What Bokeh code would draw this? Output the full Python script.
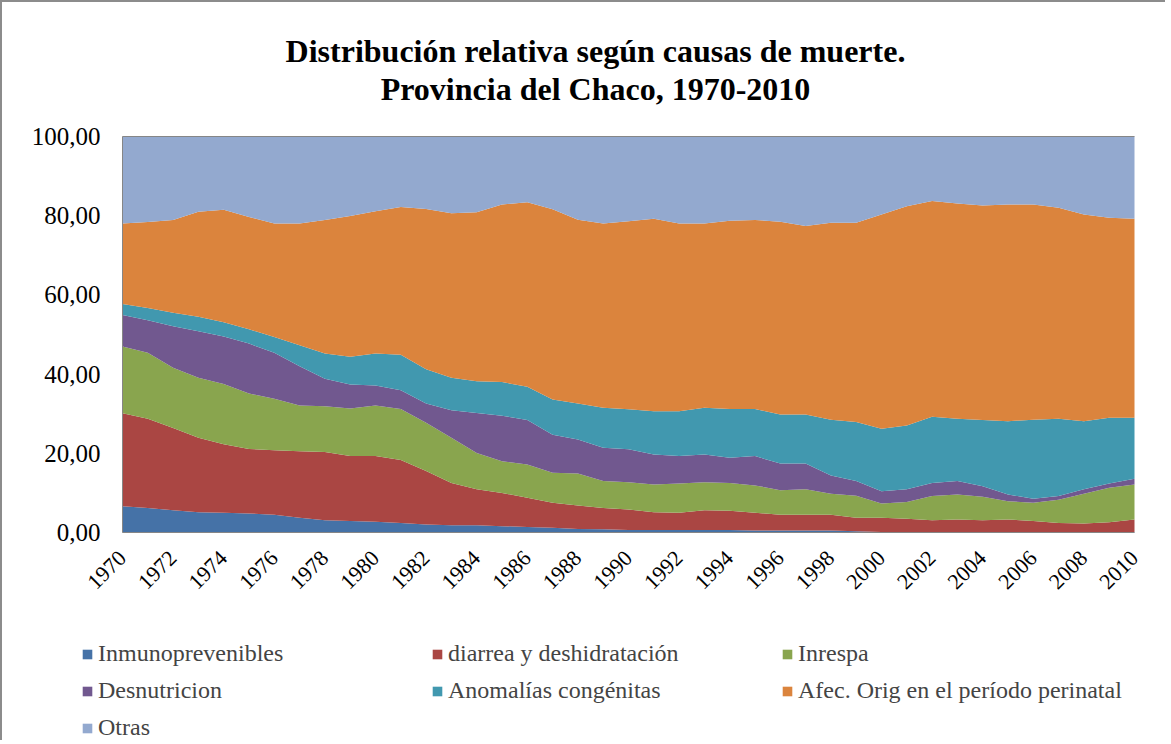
from math import pi
from bokeh.plotting import figure
from bokeh.models import (ColumnDataSource, Legend, LegendItem, Label,
                          FixedTicker, Range1d, LinearAxis)
from bokeh.embed import file_html
from bokeh.resources import INLINE

years = list(range(1970, 2011))

inmunoprevenibles = [6.6, 6.2, 5.6, 5.1, 5.0, 4.8, 4.5, 3.7, 3.1, 2.9,
                     2.7, 2.4, 2.0, 1.8, 1.8, 1.6, 1.4, 1.2, 0.9, 0.8,
                     0.6, 0.6, 0.6, 0.6, 0.6, 0.5, 0.5, 0.5, 0.5, 0.3,
                     0.1, 0.1, 0.1, 0.1, 0.1, 0.1, 0.1, 0.1, 0.1, 0.1, 0.1]
diarrea = [23.5, 22.5, 20.8, 18.8, 17.3, 16.3, 16.3, 16.8, 17.2, 16.4,
           16.6, 15.9, 13.5, 10.7, 9.1, 8.4, 7.4, 6.3, 5.9, 5.4,
           5.2, 4.5, 4.4, 5.0, 4.9, 4.5, 4.0, 4.0, 4.0, 3.4,
           3.6, 3.4, 3.0, 3.2, 3.0, 3.2, 2.8, 2.3, 2.2, 2.5, 3.2]
inrespa = [16.9, 16.7, 15.2, 15.2, 15.2, 14.0, 13.0, 11.6, 11.6, 12.0,
           12.8, 12.9, 12.2, 11.4, 9.2, 8.0, 8.4, 7.6, 8.1, 6.8,
           6.9, 7.0, 7.4, 7.1, 7.0, 6.9, 6.2, 6.4, 5.3, 5.6,
           3.6, 4.2, 6.1, 6.3, 5.9, 4.6, 4.6, 5.9, 7.5, 8.7, 8.8]
desnutricion = [7.9, 8.2, 10.5, 11.7, 12.0, 12.6, 11.6, 9.9, 6.9, 6.1,
                5.0, 4.7, 4.9, 7.0, 10.1, 11.5, 11.2, 9.6, 8.6, 8.4,
                8.3, 7.6, 6.9, 7.0, 6.4, 7.4, 6.7, 6.5, 4.6, 3.7,
                3.1, 3.2, 3.3, 3.4, 2.7, 1.7, 1.0, 0.9, 1.1, 1.1, 1.5]
anomalias = [2.8, 3.1, 3.4, 3.7, 3.6, 3.6, 4.0, 5.3, 6.4, 7.0,
             8.1, 9.0, 8.6, 8.2, 8.0, 8.5, 8.4, 8.9, 9.1, 10.1,
             10.1, 10.9, 11.3, 11.8, 12.3, 11.9, 12.4, 12.4, 14.1, 14.9,
             15.8, 16.1, 16.7, 15.7, 16.7, 18.5, 20.0, 19.5, 17.2, 16.6, 15.4]
perinatal = [20.3, 21.7, 23.4, 26.5, 28.4, 28.4, 28.6, 30.7, 33.7, 35.5,
             35.9, 37.3, 40.5, 41.5, 42.7, 44.8, 46.6, 48.0, 46.4, 46.5,
             47.5, 48.6, 47.4, 46.5, 47.5, 47.7, 48.7, 47.6, 49.7, 50.3,
             54.1, 55.4, 54.5, 54.4, 54.2, 54.7, 54.3, 53.3, 52.2, 50.5, 50.2]
otras = [22.0, 21.6, 21.1, 19.0, 18.6, 20.3, 22.0, 22.0, 21.1, 20.1,
         18.9, 17.8, 18.3, 19.4, 19.1, 17.2, 16.6, 18.4, 21.0, 22.0,
         21.4, 20.8, 22.0, 22.0, 21.3, 21.1, 21.5, 22.6, 21.8, 21.8,
         19.7, 17.6, 16.3, 16.9, 17.4, 17.2, 17.2, 18.0, 19.7, 20.5, 20.8]

series_names = ["Inmunoprevenibles", "diarrea y deshidratación", "Inrespa",
                "Desnutricion", "Anomalías congénitas",
                "Afec. Orig en el período perinatal", "Otras"]
series_values = [inmunoprevenibles, diarrea, inrespa, desnutricion,
                 anomalias, perinatal, otras]
colors = ["#4572A7", "#AA4643", "#89A54E", "#71588F", "#4198AF",
          "#DB843D", "#93A9CF"]

y_ticks = [0, 20, 40, 60, 80, 100]
y_labels = ["0,00", "20,00", "40,00", "60,00", "80,00", "100,00"]
x_ticks = list(range(1970, 2011, 2))

title_line1 = "Distribución relativa según causas de muerte."
title_line2 = "Provincia del Chaco, 1970-2010"

FONT = "Liberation Serif"
GRAY = "#868686"

# ---- layout (pixels): plot area placement inside the figure canvas ----
W, H = 1165, 740
BORDER = 2
PX_LEFT, PX_RIGHT = 122, 1134      # where first/last year sit
PX_TOP, PX_BOTTOM = 136, 532       # where 100 and 0 sit
C_LEFT, C_RIGHT = BORDER, BORDER + W
C_TOP, C_BOTTOM = BORDER, BORDER + H
y_lo, y_hi = y_ticks[0], y_ticks[-1]
ppx = (PX_RIGHT - PX_LEFT) / (years[-1] - years[0])
ppy = (PX_BOTTOM - PX_TOP) / (y_hi - y_lo)
x_start = years[0] - (PX_LEFT - C_LEFT) / ppx
x_end = years[-1] + (C_RIGHT - PX_RIGHT) / ppx
y_start = y_lo - (C_BOTTOM - PX_BOTTOM) / ppy
y_end = y_hi + (PX_TOP - C_TOP) / ppy

def sx_to_x(px):
    return years[0] + (px - PX_LEFT) / ppx

def sy_to_y(py):
    return y_hi + (PX_TOP - py) / ppy

data = {"year": years}
keys = []
for i, vals in enumerate(series_values):
    k = f"s{i}"
    keys.append(k)
    data[k] = vals
src = ColumnDataSource(data)

p = figure(width=W, height=H, output_backend="svg", toolbar_location=None,
           x_range=Range1d(x_start, x_end), y_range=Range1d(y_start, y_end),
           min_border_left=0, min_border_right=0, min_border_top=0,
           min_border_bottom=0)
p.styles = {"border-left": "2px solid #8c8c8c", "border-top": "2px solid #8c8c8c"}
p.outline_line_color = None

renderers = p.varea_stack(stackers=keys, x="year", color=colors, source=src)

p.xgrid.visible = False
p.ygrid.visible = False

xaxis = p.below[0]
yaxis = p.left[0]

xaxis.fixed_location = y_lo
xaxis.bounds = (years[0], years[-1])
yaxis.fixed_location = years[0]
yaxis.bounds = (y_lo, y_hi)

yaxis.ticker = FixedTicker(ticks=y_ticks)
yaxis.major_label_overrides = {t: l for t, l in zip(y_ticks, y_labels)}
xaxis.ticker = FixedTicker(ticks=x_ticks)
xaxis.major_label_orientation = pi / 4
for ax in (xaxis, yaxis):
    ax.axis_line_color = GRAY
    ax.major_tick_line_color = None
    ax.minor_tick_line_color = None
    ax.major_tick_out = 0
    ax.major_label_text_font = FONT
    ax.major_label_text_color = "black"
yaxis.major_label_text_font_size = "25px"
yaxis.major_label_standoff = 22
xaxis.major_label_text_font_size = "22px"
xaxis.major_label_standoff = 22

# thin gray line closing the top of the plot area
top_axis = LinearAxis(fixed_location=y_hi, bounds=(years[0], years[-1]),
                      ticker=FixedTicker(ticks=[]), axis_line_color=GRAY,
                      major_tick_line_color=None, minor_tick_line_color=None,
                      major_label_text_alpha=0)
p.add_layout(top_axis, "above")

title_x = sx_to_x(595)
for txt, py in ((title_line1, 50), (title_line2, 88)):
    p.add_layout(Label(x=title_x, y=sy_to_y(py), text=txt, text_align="center",
                       text_baseline="middle", text_font=FONT,
                       text_font_size="32px", text_font_style="bold",
                       text_color="black"))

items = [LegendItem(label=n, renderers=[r]) for n, r in zip(series_names, renderers)]
legend = Legend(items=items, orientation="horizontal", ncols=3,
                location=(81 - C_LEFT, 0), padding=0, margin=0,
                glyph_width=12, glyph_height=12, label_standoff=5,
                label_width=325, label_height=29, spacing=8,
                label_text_font=FONT, label_text_font_size="24px",
                border_line_alpha=0, background_fill_alpha=0)
p.add_layout(legend, "center")

open("out.html", "w").write(file_html(p, INLINE))
